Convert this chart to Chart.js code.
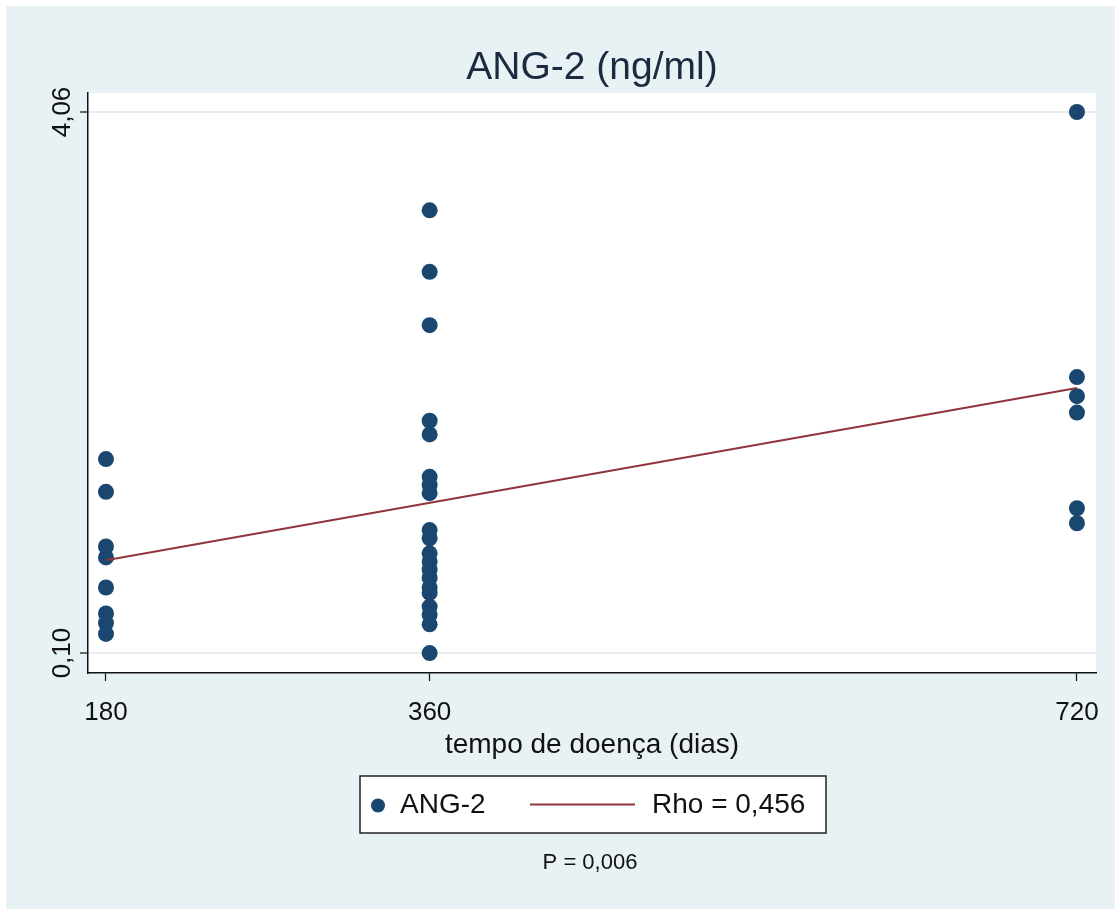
<!DOCTYPE html>
<html>
<head>
<meta charset="utf-8">
<title>ANG-2 (ng/ml)</title>
<script src="https://cdn.jsdelivr.net/npm/chart.js@4.4.1/dist/chart.umd.min.js"></script>
<style>
  html, body { margin: 0; padding: 0; background: #fff; }
  #wrap { position: relative; width: 1115px; height: 909px; }
</style>
</head>
<body>
<div id="wrap"><canvas id="angChart"></canvas></div>
<script>
// ======================================================
// DATA
// ======================================================
const chartTitle = "ANG-2 (ng/ml)";
const xAxisTitle = "tempo de doença (dias)";
const pValueText = "P = 0,006";

const xTickVals = [180, 360, 720];
const yTickVals = [0.10, 4.06];
const yTickLabels = ["0,10", "4,06"];

// ANG-2 values read per disease-duration group
const ang2At180 = [1.52, 1.28, 0.88, 0.80, 0.58, 0.39, 0.32, 0.24];
const ang2At360 = [3.34, 2.89, 2.50, 1.80, 1.70, 1.39, 1.33, 1.27, 1.00, 0.94,
                   0.83, 0.77, 0.71, 0.65, 0.58, 0.54, 0.44, 0.38, 0.31, 0.10];
const ang2At720 = [4.06, 2.12, 1.98, 1.86, 1.16, 1.05];

// fitted line end points
const fitX = [180, 720];
const fitY = [0.78, 2.04];

const scatterLabel = "ANG-2";
const fitLabel = "Rho = 0,456";


// ======================================================
// FONT CHECK (narrow face if present)
// ======================================================
const probe = document.createElement("canvas").getContext("2d");
probe.font = '40px "Liberation Sans Narrow", monospace';
const wNarrow = probe.measureText("ANG-2 tempo").width;
probe.font = "40px monospace";
const NARROW = Math.abs(wNarrow - probe.measureText("ANG-2 tempo").width) > 0.5;
const FAMILY = NARROW ? '"Liberation Sans Narrow", "Liberation Sans", Arial, sans-serif'
                      : '"Liberation Sans", Arial, sans-serif';
const fs = n => NARROW ? n : Math.round(n * 0.82);


// ======================================================
// BUILD POINTS
// ======================================================
const scatterPts = [];
ang2At180.forEach(v => scatterPts.push({ x: 180, y: v }));
ang2At360.forEach(v => scatterPts.push({ x: 360, y: v }));
ang2At720.forEach(v => scatterPts.push({ x: 720, y: v }));

const fitPts = fitX.map((x, i) => ({ x, y: fitY[i] }));


// ======================================================
// PLUGIN — BACKGROUND, Y LABELS, LEGEND BOX, P VALUE
// ======================================================
const stataLook = {
  id: "stataLook",
  beforeDraw(chart) {
    const { ctx, width, height, chartArea } = chart;
    ctx.save();
    ctx.fillStyle = "#ffffff";
    ctx.fillRect(0, 0, width, height);
    ctx.fillStyle = "#e8f1f3";
    ctx.fillRect(6, 6, width - 6, height - 6);
    ctx.fillStyle = "#ffffff";
    ctx.fillRect(chartArea.left, chartArea.top,
                 chartArea.right - chartArea.left, chartArea.bottom - chartArea.top);
    ctx.restore();
  },
  afterDraw(chart) {
    const { ctx } = chart;
    const yScale = chart.scales.y;

    // rotated y tick labels
    ctx.save();
    ctx.fillStyle = "#111";
    ctx.font = `${fs(32)}px ${FAMILY}`;
    ctx.textAlign = "center";
    ctx.textBaseline = "alphabetic";
    yScale.ticks.forEach((t, i) => {
      const py = yScale.getPixelForValue(t.value);
      ctx.save();
      ctx.translate(70, py);
      ctx.rotate(-Math.PI / 2);
      ctx.fillText(yTickLabels[i], 0, 0);
      ctx.restore();
    });
    ctx.restore();

    // legend box
    const dsPts = chart.data.datasets[1];
    const dsFit = chart.data.datasets[0];
    const bx = 360, by = 776, bw = 466, bh = 57;
    const cy = by + bh / 2 + 1;
    ctx.save();
    ctx.fillStyle = "#ffffff";
    ctx.fillRect(bx, by, bw, bh);
    ctx.strokeStyle = "#222";
    ctx.lineWidth = 1.5;
    ctx.strokeRect(bx, by, bw, bh);

    ctx.fillStyle = dsPts.backgroundColor;
    ctx.beginPath();
    ctx.arc(378, cy, 7, 0, Math.PI * 2);
    ctx.fill();

    ctx.strokeStyle = dsFit.borderColor;
    ctx.lineWidth = 2;
    ctx.beginPath();
    ctx.moveTo(530, cy - 1);
    ctx.lineTo(635, cy - 1);
    ctx.stroke();

    ctx.fillStyle = "#111";
    ctx.font = `${fs(34)}px ${FAMILY}`;
    ctx.textAlign = "left";
    ctx.textBaseline = "middle";
    ctx.fillText(dsPts.label, 400, cy);
    ctx.fillText(dsFit.label, 652, cy);

    // p value
    ctx.font = `${fs(27)}px ${FAMILY}`;
    ctx.textAlign = "center";
    ctx.fillText(pValueText, 590, 863);
    ctx.restore();
  }
};


// ======================================================
// CHART
// ======================================================
const ctx = document.getElementById("angChart").getContext("2d");

new Chart(ctx, {
  type: "scatter",
  data: {
    datasets: [
      {
        type: "line",
        label: fitLabel,
        data: fitPts,
        borderColor: "#90353b",
        borderWidth: 2,
        pointRadius: 0,
        fill: false,
        order: 0
      },
      {
        label: scatterLabel,
        data: scatterPts,
        backgroundColor: "#1a476f",
        borderWidth: 0,
        pointRadius: 8,
        pointHoverRadius: 8,
        order: 1
      }
    ]
  },
  options: {
    responsive: true,
    maintainAspectRatio: false,
    animation: false,
    layout: { padding: { left: 0, right: 18, top: 0, bottom: 0 } },
    plugins: {
      legend: { display: false },
      tooltip: { enabled: false },
      title: {
        display: true,
        text: chartTitle,
        fullSize: false,
        color: "#1a2a40",
        font: { family: FAMILY, size: fs(48), weight: "normal", lineHeight: 1.0 },
        padding: { top: 49, bottom: 5 }
      }
    },
    scales: {
      x: {
        type: "linear",
        min: 170,
        max: 730.6,
        afterBuildTicks: s => { s.ticks = xTickVals.map(v => ({ value: v })); },
        afterFit: s => { s.height = 236; },
        ticks: {
          color: "#111",
          padding: 16,
          font: { family: FAMILY, size: fs(32) },
          callback: v => String(v)
        },
        grid: {
          drawOnChartArea: false,
          tickColor: "#111",
          tickLength: 8,
          tickWidth: 1.2
        },
        border: { display: true, color: "#111", width: 1.5 },
        title: {
          display: true,
          text: xAxisTitle,
          color: "#111",
          font: { family: FAMILY, size: fs(34) },
          padding: { top: 0, bottom: 147 }
        }
      },
      y: {
        type: "linear",
        min: -0.046,
        max: 4.199,
        afterBuildTicks: s => { s.ticks = yTickVals.map(v => ({ value: v })); },
        afterFit: s => { s.width = 88; },
        ticks: { display: false },
        grid: {
          color: "#e6eef1",
          lineWidth: 2,
          tickColor: "#111",
          tickLength: 8,
          tickWidth: 1.2
        },
        border: { display: true, color: "#111", width: 1.5 }
      }
    }
  },
  plugins: [stataLook]
});
</script>
</body>
</html>
